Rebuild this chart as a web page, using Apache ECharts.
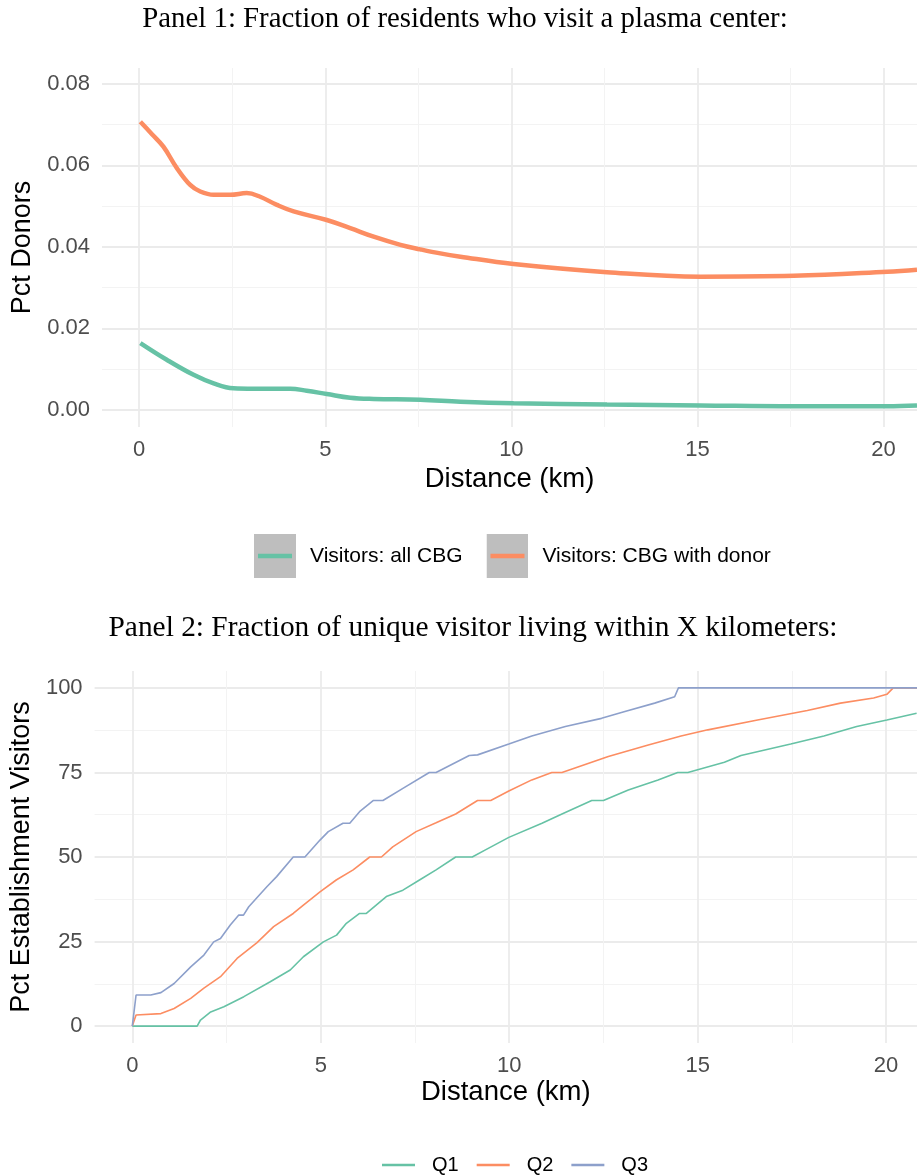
<!DOCTYPE html>
<html>
<head>
<meta charset="utf-8">
<script src="https://cdn.jsdelivr.net/npm/echarts@6/dist/echarts.min.js"></script>
<style>
  html, body { margin: 0; padding: 0; background: #ffffff; }
  #chart { width: 917px; height: 1175px; }
</style>
</head>
<body>
<div id="chart"></div>
<script>
// Panel 1: share of residents visiting a plasma center, by distance (km)
const allCbgDist   = [0.03, 0.74, 1.46, 2.0, 2.53, 3.07, 4.06, 4.5, 5.04, 5.67, 6.3, 7.55, 8.63, 10.06, 12.57, 15.08, 17.59, 20.1, 20.9];
const allCbgPct    = [0.0164, 0.0123, 0.0086, 0.0065, 0.0053, 0.0052, 0.0052, 0.0047, 0.0039, 0.0030, 0.0027, 0.0025, 0.0020, 0.0016, 0.0013, 0.0011, 0.0009, 0.0009, 0.0011];
const donorCbgDist = [0.03, 0.35, 0.65, 1.0, 1.37, 1.64, 2.0, 2.45, 2.89, 3.25, 3.7, 4.15, 5.04, 5.67, 6.3, 7.02, 7.55, 8.09, 8.63, 10.06, 12.57, 15.08, 17.59, 20.1, 20.9];
const donorCbgPct  = [0.0707, 0.0676, 0.0646, 0.0595, 0.0552, 0.0536, 0.0528, 0.0528, 0.0532, 0.0523, 0.0503, 0.0487, 0.0466, 0.0446, 0.0425, 0.0405, 0.0394, 0.0384, 0.0376, 0.0358, 0.0338, 0.0327, 0.0329, 0.0339, 0.0344];

// Panel 2: cumulative share of unique visitors living within X km
const q1Dist = [0, 1.72, 1.81, 2.08, 2.43, 2.96, 3.66, 4.19, 4.54, 5.07, 5.42, 5.68, 6.03, 6.21, 6.74, 7.18, 7.62, 8.06, 8.58, 9.02, 9.37, 9.99, 10.87, 11.4, 12.19, 12.5, 13.16, 13.95, 14.47, 14.74, 15.71, 16.15, 17.47, 18.35, 19.22, 20.02, 20.81];
const q1Pct  = [0, 0, 1.8, 4.2, 5.7, 8.7, 13.1, 16.6, 20.5, 24.9, 26.9, 30.4, 33.3, 33.3, 38.3, 40.2, 43.2, 46.2, 50, 50, 52.1, 55.8, 60, 62.7, 66.7, 66.7, 69.8, 72.8, 75, 75, 78, 80, 83.4, 85.8, 88.6, 90.5, 92.5];
const q2Dist = [0, 0.1, 0.76, 1.11, 1.55, 1.9, 2.34, 2.78, 3.31, 3.75, 4.27, 4.54, 4.98, 5.41, 5.86, 6.3, 6.61, 6.91, 7.53, 8.06, 8.58, 9.16, 9.51, 9.99, 10.6, 11.13, 11.4, 12.63, 13.69, 14.56, 15.27, 16.59, 17.91, 18.79, 19.67, 20.02, 20.19, 20.9];
const q2Pct  = [0, 3.3, 3.7, 5.2, 8.2, 11.2, 14.6, 20, 24.7, 29.4, 33.3, 35.8, 39.7, 43.2, 46.2, 50, 50, 53, 57.5, 60.1, 62.7, 66.7, 66.7, 69.5, 72.8, 75, 75, 79.7, 83.1, 85.8, 87.6, 90.5, 93.3, 95.5, 97, 98.1, 100, 100];
const q3Dist = [0, 0.1, 0.49, 0.76, 1.11, 1.55, 1.9, 2.16, 2.34, 2.6, 2.82, 2.95, 3.09, 3.57, 3.83, 4.27, 4.58, 4.98, 5.2, 5.59, 5.77, 6.03, 6.39, 6.65, 7.18, 7.88, 8.06, 8.94, 9.16, 9.99, 10.6, 11.49, 12.45, 13.07, 13.86, 14.39, 14.49, 20.9];
const q3Pct  = [0, 9.2, 9.2, 9.9, 12.6, 17.5, 21, 24.9, 25.9, 29.9, 32.8, 32.8, 35.3, 41.2, 44.2, 50, 50, 55, 57.5, 60, 60, 63.4, 66.7, 66.7, 70.3, 75, 75, 80, 80.2, 83.4, 85.8, 88.6, 91, 93, 95.5, 97.4, 100, 100];

// Tick positions
const xMajor   = [0, 5, 10, 15, 20];
const xMinor   = [2.5, 7.5, 12.5, 17.5];
const y1Major  = [0, 0.02, 0.04, 0.06, 0.08];
const y1Minor  = [0.01, 0.03, 0.05, 0.07];
const y2Major  = [0, 25, 50, 75, 100];
const y2Minor  = [12.5, 37.5, 62.5, 87.5];

const seriesNames1 = ['Visitors: all CBG', 'Visitors: CBG with donor'];
const seriesNames2 = ['Q1', 'Q2', 'Q3'];

const GREEN = '#66c2a5', ORANGE = '#fc8d62', BLUE = '#8da0cb';
const GRID_MAJOR = '#ebebeb', GRID_MINOR = '#f3f3f3';
const SANS = '"Liberation Sans", Arial, sans-serif';
const SERIF = '"Liberation Serif", "DejaVu Serif", serif';

const zip = (xs, ys) => xs.map((x, i) => [x, ys[i]]);

// Legend key: grey square with a coloured stroke across it
function keyIcon(color) {
  const svg = '<svg xmlns="http://www.w3.org/2000/svg" width="42" height="44" viewBox="0 0 42 44">' +
    '<rect x="0" y="0" width="42" height="44" fill="#bebebe"/>' +
    '<line x1="4" y1="22" x2="38" y2="22" stroke="' + color + '" stroke-width="4.5"/></svg>';
  return 'image://data:image/svg+xml;charset=utf-8,' + encodeURIComponent(svg);
}

function majorX(gridIndex, max, nameGap) {
  return {
    type: 'value', gridIndex: gridIndex, min: -1, max: max, position: 'bottom',
    name: 'Distance (km)', nameLocation: 'middle', nameGap: nameGap,
    nameTextStyle: { fontFamily: SANS, fontSize: 27.5, color: '#000' },
    axisLine: { show: false },
    axisTick: { show: false, customValues: xMajor },
    axisLabel: { customValues: xMajor, fontFamily: SANS, fontSize: 22, color: '#4d4d4d', margin: 12 },
    splitLine: { show: true, lineStyle: { color: GRID_MAJOR, width: 1.8 } }
  };
}
function minorX(gridIndex, max) {
  return {
    type: 'value', gridIndex: gridIndex, min: -1, max: max, position: 'top',
    axisLine: { show: false },
    axisTick: { show: false, customValues: xMinor },
    axisLabel: { show: false },
    splitLine: { show: true, lineStyle: { color: GRID_MINOR, width: 1 } }
  };
}
function majorY(gridIndex, min, max, ticks, name, nameGap, fmt) {
  return {
    type: 'value', gridIndex: gridIndex, min: min, max: max, position: 'left',
    name: name, nameLocation: 'middle', nameGap: nameGap,
    nameTextStyle: { fontFamily: SANS, fontSize: 27, color: '#000' },
    axisLine: { show: false },
    axisTick: { show: false, customValues: ticks },
    axisLabel: { customValues: ticks, fontFamily: SANS, fontSize: 22, color: '#4d4d4d', margin: 12, formatter: fmt },
    splitLine: { show: true, lineStyle: { color: GRID_MAJOR, width: 1.8 } }
  };
}
function minorY(gridIndex, min, max, ticks) {
  return {
    type: 'value', gridIndex: gridIndex, min: min, max: max, position: 'right',
    axisLine: { show: false },
    axisTick: { show: false, customValues: ticks },
    axisLabel: { show: false },
    splitLine: { show: true, lineStyle: { color: GRID_MINOR, width: 1 } }
  };
}

const chart = echarts.init(document.getElementById('chart'), null, { renderer: 'canvas' });

const option = {
  animation: false,
  backgroundColor: '#ffffff',
  title: [
    { text: 'Panel 1: Fraction of residents who visit a plasma center:', left: 460, top: 0, textAlign: 'center',
      textStyle: { fontFamily: SERIF, fontSize: 28.8, fontWeight: 'normal', color: '#000' } },
    { text: 'Panel 2: Fraction of unique visitor living within X kilometers:', left: 468, top: 609, textAlign: 'center',
      textStyle: { fontFamily: SERIF, fontSize: 29.4, fontWeight: 'normal', color: '#000' } }
  ],
  grid: [
    { left: 102, top: 68, right: 0, height: 359, containLabel: false },
    { left: 87, top: 671, right: 0, height: 372, containLabel: false }
  ],
  xAxis: [
    majorX(0, 20.9, 38), minorX(0, 20.9),
    majorX(1, 20.82, 35), minorX(1, 20.82)
  ],
  yAxis: [
    majorY(0, -0.0042, 0.0839, y1Major, 'Pct Donors', 62, v => v.toFixed(2)), minorY(0, -0.0042, 0.0839, y1Minor),
    majorY(1, -5, 105, y2Major, 'Pct Establishment Visitors', 47, v => String(v)), minorY(1, -5, 105, y2Minor)
  ],
  legend: [
    {
      left: 249, top: 529, orient: 'horizontal',
      itemWidth: 42, itemHeight: 44, itemGap: 24,
      textStyle: { fontFamily: SANS, fontSize: 21, color: '#000', padding: [0, 0, 0, 9] },
      data: [
        { name: seriesNames1[0], icon: keyIcon(GREEN) },
        { name: seriesNames1[1], icon: keyIcon(ORANGE) }
      ]
    },
    {
      left: 377, top: 1150, orient: 'horizontal',
      icon: 'rect', itemWidth: 33, itemHeight: 2.5, itemGap: 18,
      textStyle: { fontFamily: SANS, fontSize: 20, color: '#000', padding: [0, 0, 0, 12] },
      data: seriesNames2
    }
  ],
  series: [
    { name: seriesNames1[0], type: 'line', xAxisIndex: 0, yAxisIndex: 0, smooth: 0.4, showSymbol: false,
      data: zip(allCbgDist, allCbgPct), lineStyle: { color: GREEN, width: 4.5 }, itemStyle: { color: GREEN } },
    { name: seriesNames1[1], type: 'line', xAxisIndex: 0, yAxisIndex: 0, smooth: 0.4, showSymbol: false,
      data: zip(donorCbgDist, donorCbgPct), lineStyle: { color: ORANGE, width: 4.5 }, itemStyle: { color: ORANGE } },
    { name: seriesNames2[0], type: 'line', xAxisIndex: 2, yAxisIndex: 2, showSymbol: false,
      data: zip(q1Dist, q1Pct), lineStyle: { color: GREEN, width: 1.6 }, itemStyle: { color: GREEN } },
    { name: seriesNames2[1], type: 'line', xAxisIndex: 2, yAxisIndex: 2, showSymbol: false,
      data: zip(q2Dist, q2Pct), lineStyle: { color: ORANGE, width: 1.6 }, itemStyle: { color: ORANGE } },
    { name: seriesNames2[2], type: 'line', xAxisIndex: 2, yAxisIndex: 2, showSymbol: false,
      data: zip(q3Dist, q3Pct), lineStyle: { color: BLUE, width: 1.6 }, itemStyle: { color: BLUE } }
  ]
};

chart.setOption(option);
</script>
</body>
</html>
